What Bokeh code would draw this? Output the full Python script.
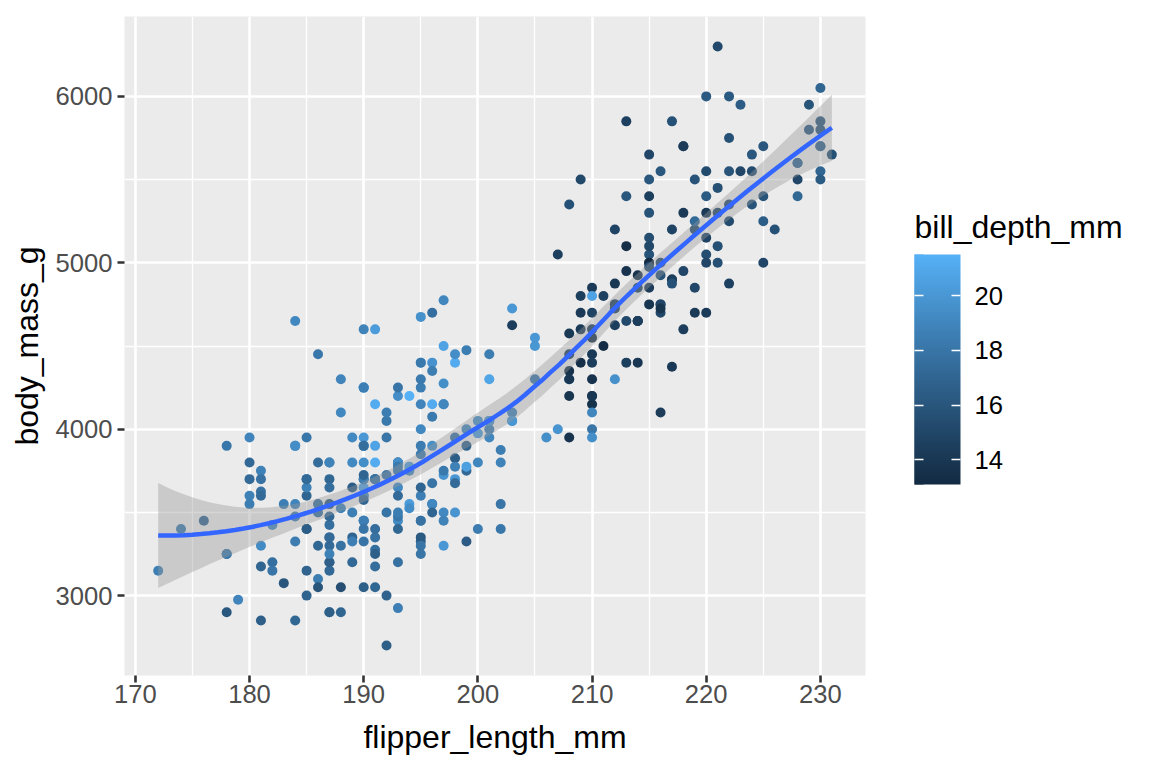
import numpy as np
from bokeh.plotting import figure
from bokeh.models import (Range1d, FixedTicker, LinearColorMapper, ColorBar, ColumnDataSource)
from bokeh.embed import file_html
from bokeh.resources import INLINE

# ---------------- data (palmer penguins, rows with complete values, in data order) ----------------
adelie_flipper = [181,186,195,193,190,181,195,193,190,186,180,182,191,198,185,195,197,184,194,174,
    180,189,185,180,187,183,187,172,180,178,178,188,184,195,196,190,180,181,184,182,195,186,196,185,
    190,182,179,190,191,186,188,190,200,187,191,186,193,181,194,185,195,185,192,184,192,195,188,190,
    198,190,190,196,197,190,195,191,184,187,195,189,196,187,193,191,194,190,189,189,190,202,205,185,
    186,187,208,190,196,178,192,192,203,183,190,193,184,199,190,181,197,198,191,193,197,191,196,188,
    199,189,189,187,198,176,202,186,199,191,195,191,210,190,197,193,199,187,190,191,200,185,193,193,
    187,188,190,192,185,190,184,195,193,187,201]
adelie_mass = [3750,3800,3250,3450,3650,3625,4675,3475,4250,3300,3700,3200,3800,4400,3700,3450,4500,
    3325,4200,3400,3600,3800,3950,3800,3800,3550,3200,3150,3950,3250,3900,3300,3900,3325,4150,3950,
    3550,3300,4650,3150,3900,3100,4400,3000,4600,3425,2975,3450,4150,3500,4300,3450,4050,2900,3700,
    3550,3800,2850,3750,3150,4400,3600,4050,2850,3950,3350,4100,3050,4450,3600,3900,3550,4150,3700,
    4250,3700,3900,3550,4000,3200,4700,3800,4200,3350,3550,3800,3500,3950,3600,3550,4300,3400,4450,
    3300,4300,3700,4350,2900,4100,3725,4725,3075,4250,2925,3550,3750,3900,3175,4775,3825,4600,3200,
    4275,3900,4075,2900,3775,3350,3325,3150,3500,3450,3875,3050,4000,3275,4300,3050,4000,3325,3500,
    3500,4475,3425,3900,3175,3975,3400,4250,3400,3475,3050,3725,3000,3650,4250,3475,3450,3750,3700,
    4000]
adelie_depth = [18.7,17.4,18.0,19.3,20.6,17.8,19.6,18.1,20.2,17.1,17.3,17.6,21.2,21.1,17.8,19.0,20.7,
    18.4,21.5,18.3,18.7,19.2,18.1,17.2,18.9,18.6,17.9,18.6,18.9,16.7,18.1,17.8,18.9,17.0,21.1,20.0,
    18.5,19.3,19.1,18.0,18.4,18.5,19.7,16.9,18.8,19.0,18.9,17.9,21.2,17.7,18.9,17.9,19.5,18.1,18.6,
    17.5,18.8,16.6,19.1,16.9,21.1,17.0,18.2,17.1,18.0,16.2,19.1,16.6,19.4,19.0,18.4,17.2,18.9,17.5,
    18.5,16.8,19.4,16.1,19.1,17.2,17.6,18.8,19.4,17.8,20.3,19.5,18.6,19.2,18.8,18.0,18.1,17.1,18.1,
    17.3,18.9,18.6,18.5,16.1,18.5,17.9,20.0,16.0,20.0,18.6,18.9,17.2,20.0,17.0,19.0,16.5,20.3,17.7,
    19.5,20.7,18.3,17.0,20.5,17.0,18.6,17.2,19.8,17.0,18.5,15.9,19.0,17.6,18.3,17.1,18.0,17.9,19.2,
    18.5,18.5,17.6,17.5,17.5,20.1,16.5,17.9,17.1,17.2,15.5,17.0,16.8,18.7,18.6,18.4,17.8,18.1,17.1,
    18.5]

gentoo_flipper = [211,230,210,218,215,210,211,219,209,215,214,216,214,213,210,217,210,221,209,222,
    218,215,213,215,215,215,216,215,210,220,222,209,207,230,220,220,213,219,208,208,208,225,210,216,
    222,217,210,225,213,215,210,220,210,225,217,220,208,220,208,224,208,221,214,231,219,230,214,229,
    220,223,216,221,221,217,216,230,209,220,215,223,212,221,212,224,212,228,218,218,212,230,218,228,
    212,224,214,226,216,222,203,225,219,228,215,228,216,215,210,219,208,209,216,229,213,230,217,230,
    217,222,214,215,222,212,213]
gentoo_mass = [4500,5700,4450,5700,5400,4550,4800,5200,4400,5150,4650,5550,4650,5850,4200,5850,4150,
    6300,4800,5350,5700,5000,4400,5050,5000,5100,4100,5650,4600,5550,5250,4700,5050,6050,5150,5400,
    4950,5250,4350,5350,3950,5700,4300,4750,5550,4900,4200,5400,5100,5300,4850,5300,4400,5000,4900,
    5050,4300,5000,4450,5550,4200,5300,4400,5650,4700,5700,4650,5800,4700,5550,4750,5000,5100,5200,
    4700,5800,4600,6000,4750,5950,4625,5450,4725,5350,4750,5600,4600,5300,4875,5550,4950,5400,4750,
    5650,4850,5200,4925,4875,4625,5250,4850,5600,4975,5500,4725,5500,4700,5500,4575,5500,5000,5950,
    4650,5500,4375,5850,4875,6000,4925,4850,5750,5200,5400]
gentoo_depth = [13.2,16.3,14.1,15.2,14.5,13.5,14.6,15.3,13.4,15.4,13.7,16.1,13.7,14.6,14.6,15.7,13.5,
    15.2,14.5,15.1,14.3,14.5,14.5,15.8,13.1,15.1,14.3,15.0,14.3,15.3,15.3,14.2,14.5,17.0,14.8,16.3,
    13.7,17.3,13.6,15.7,13.7,16.0,13.7,15.0,15.9,13.9,13.9,15.9,13.3,15.8,14.2,14.1,14.4,15.0,14.4,
    15.4,13.9,15.0,14.5,15.3,13.8,14.9,13.9,15.7,14.2,16.8,14.4,16.2,14.2,15.0,15.0,15.6,15.6,14.8,
    15.0,16.0,14.2,16.3,13.8,16.4,14.5,15.6,14.6,15.9,13.8,17.3,14.4,14.2,14.0,17.0,15.0,17.1,14.5,
    16.1,14.7,15.7,15.8,14.6,14.4,16.5,15.0,17.0,15.5,15.0,13.8,16.1,14.7,15.8,14.0,15.1,15.2,15.9,
    15.2,16.3,14.1,16.0,15.7,16.2,13.7,14.3,15.7,14.8,16.1]

chinstrap_flipper = [192,196,193,188,197,198,178,197,195,198,193,194,185,201,190,201,197,181,190,195,
    181,191,187,193,195,197,200,200,191,205,187,201,187,203,195,199,195,210,192,205,210,187,196,196,
    196,201,190,212,187,198,199,201,193,203,187,197,191,203,202,194,206,189,195,207,202,193,210,198]
chinstrap_mass = [3500,3900,3650,3525,3725,3950,3250,3750,4150,3700,3800,3775,3700,4050,3575,4050,
    3300,3700,3450,4400,3600,3400,2900,3800,3300,4150,3400,3800,3700,4550,3200,4300,3350,4100,3600,
    3900,3850,4800,2700,4500,3950,3650,3550,3500,3675,4450,3400,4300,3250,3675,3325,3950,3600,4050,
    3350,3450,3250,4050,3800,3525,3950,3650,3650,4000,3400,3775,4100,3775]
chinstrap_depth = [17.9,19.5,19.2,18.7,19.8,17.8,18.2,18.2,18.9,19.9,17.8,20.3,17.3,18.1,17.1,19.6,
    20.0,17.8,18.6,18.2,17.3,17.5,16.6,19.4,17.9,19.0,18.4,19.0,17.8,20.0,16.6,20.8,16.7,18.8,18.6,
    16.8,18.3,20.7,16.6,19.9,19.5,17.5,19.1,17.0,17.9,18.5,17.9,19.6,18.7,17.3,16.4,19.0,17.3,19.7,
    17.3,18.8,16.6,19.9,18.8,19.4,19.5,16.5,17.0,19.8,18.1,18.2,19.0,18.7]

x_ticks = [170, 180, 190, 200, 210, 220, 230]
y_ticks = [3000, 4000, 5000, 6000]
legend_ticks = [14, 16, 18, 20]
legend_title = "bill_depth_mm"

flipper_length_mm = np.array(adelie_flipper + gentoo_flipper + chinstrap_flipper, dtype=float)
body_mass_g = np.array(adelie_mass + gentoo_mass + chinstrap_mass, dtype=float)
bill_depth_mm = np.array(adelie_depth + gentoo_depth + chinstrap_depth, dtype=float)

# ---------------- colour scale: ggplot default gradient in CIELAB ----------------
def _hex_to_lab(h):
    rgb = np.array([int(h[i:i + 2], 16) for i in (1, 3, 5)]) / 255.0
    lin = np.where(rgb <= 0.04045, rgb / 12.92, ((rgb + 0.055) / 1.055) ** 2.4)
    M = np.array([[0.4124564, 0.3575761, 0.1804375],
                  [0.2126729, 0.7151522, 0.0721750],
                  [0.0193339, 0.1191920, 0.9503041]])
    xyz = M @ lin / np.array([0.95047, 1.0, 1.08883])
    d = 6 / 29
    f = np.where(xyz > d ** 3, np.cbrt(xyz), xyz / (3 * d * d) + 4 / 29)
    return np.array([116 * f[1] - 16, 500 * (f[0] - f[1]), 200 * (f[1] - f[2])])

def _lab_to_hex(lab):
    L, a, b = lab
    fy = (L + 16) / 116
    fx = fy + a / 500
    fz = fy - b / 200
    d = 6 / 29
    f = np.array([fx, fy, fz])
    xyz = np.where(f > d, f ** 3, 3 * d * d * (f - 4 / 29)) * np.array([0.95047, 1.0, 1.08883])
    Minv = np.array([[3.2404542, -1.5371385, -0.4985314],
                     [-0.9692660, 1.8760108, 0.0415560],
                     [0.0556434, -0.2040259, 1.0572252]])
    lin = np.clip(Minv @ xyz, 0, 1)
    rgb = np.where(lin <= 0.0031308, 12.92 * lin, 1.055 * lin ** (1 / 2.4) - 0.055)
    rgb = np.clip(np.round(rgb * 255), 0, 255).astype(int)
    return "#%02x%02x%02x" % tuple(rgb)

lab_lo, lab_hi = _hex_to_lab("#132B43"), _hex_to_lab("#56B1F7")
palette = [_lab_to_hex(lab_lo + (lab_hi - lab_lo) * t) for t in np.linspace(0, 1, 256)]
mapper = LinearColorMapper(palette=palette, low=bill_depth_mm.min(), high=bill_depth_mm.max())

# ---------------- loess smooth (span 0.75, degree 2) with 95% band ----------------
def loess_operator(x, x_eval, span=0.75):
    n = len(x)
    q = int(np.floor(n * span))
    rows = []
    for x0 in x_eval:
        d = np.abs(x - x0)
        h = np.sort(d)[q - 1]
        u = d / h
        w = np.where(u < 1, (1 - u ** 3) ** 3, 0.0)
        X = np.column_stack([np.ones(n), x - x0, (x - x0) ** 2])
        XtW = X.T * w
        rows.append(np.linalg.solve(XtW @ X, XtW)[0])
    return np.array(rows)

xv, yv = flipper_length_mm, body_mass_g
L_full = loess_operator(xv, xv)
IL = np.eye(len(xv)) - L_full
MM = IL.T @ IL
delta1 = np.trace(MM)
delta2 = np.sum(MM * MM)
resid = yv - L_full @ yv
s_hat = np.sqrt(np.sum(resid ** 2) / delta1)
df_t = delta1 ** 2 / delta2
z = 1.959963984540054
t_q = z + (z ** 3 + z) / (4 * df_t) + (5 * z ** 5 + 16 * z ** 3 + 3 * z) / (96 * df_t ** 2)
xs = np.linspace(xv.min(), xv.max(), 80)
L_eval = loess_operator(xv, xs)
fit = L_eval @ yv
se = s_hat * np.sqrt(np.sum(L_eval ** 2, axis=1))
lo, hi = fit - t_q * se, fit + t_q * se

# ---------------- figure ----------------
FONT = "Liberation Sans"
xpad = (xv.max() - xv.min()) * 0.05
ypad = (yv.max() - yv.min()) * 0.05

p = figure(frame_width=741, frame_height=659,
           min_border_left=124, min_border_right=287, min_border_top=16, min_border_bottom=93,
           x_range=Range1d(xv.min() - xpad, xv.max() + xpad),
           y_range=Range1d(yv.min() - ypad, yv.max() + ypad),
           output_backend="svg", toolbar_location=None)
p.background_fill_color = "#EBEBEB"
p.border_fill_color = "white"
p.outline_line_color = None

p.xaxis.ticker = FixedTicker(ticks=x_ticks, minor_ticks=[t + 5 for t in x_ticks[:-1]])
p.yaxis.ticker = FixedTicker(ticks=y_ticks, minor_ticks=[t + 500 for t in y_ticks])
for g in (p.xgrid, p.ygrid):
    g.grid_line_color = "white"
    g.grid_line_width = 2.6
    g.minor_grid_line_color = "white"
    g.minor_grid_line_width = 1.3

for ax in (p.xaxis, p.yaxis):
    ax.axis_line_color = None
    ax.major_tick_line_color = "#333333"
    ax.major_tick_line_width = 2.6
    ax.major_tick_in = 0
    ax.major_tick_out = 7
    ax.minor_tick_line_color = None
    ax.major_label_text_font = FONT
    ax.major_label_text_font_size = "25.6px"
    ax.major_label_text_color = "#4D4D4D"
    ax.axis_label_text_font = FONT
    ax.axis_label_text_font_size = "32px"
    ax.axis_label_text_font_style = "normal"
    ax.axis_label_text_color = "black"
p.xaxis.axis_label = "flipper_length_mm"
p.yaxis.axis_label = "body_mass_g"
p.xaxis.major_label_standoff = 2
p.xaxis.axis_label_standoff = 13
p.yaxis.major_label_standoff = 5
p.yaxis.axis_label_standoff = 8

src = ColumnDataSource(dict(x=xv, y=yv, d=bill_depth_mm))
p.scatter("x", "y", source=src, size=10, line_color=None,
          fill_color={"field": "d", "transform": mapper})

p.varea(x=xs, y1=lo, y2=hi, fill_color="#999999", fill_alpha=0.4)
p.line(xs, fit, line_color="#3366FF", line_width=4.5)

cb = ColorBar(color_mapper=mapper, ticker=FixedTicker(ticks=legend_ticks),
              width=46, height=230, padding=0, margin=0,
              location=(790, 191),
              major_label_text_font=FONT, major_label_text_font_size="25.6px",
              major_label_text_color="black", label_standoff=14,
              major_tick_line_color="white", major_tick_line_width=1.5,
              major_tick_in=9, major_tick_out=0, minor_tick_line_color=None,
              bar_line_color=None, border_line_color=None, background_fill_alpha=0)
p.add_layout(cb, "center")

# narrow strip over the left edge of the bar, carrying the left-hand white ticks
cb_left = ColorBar(color_mapper=mapper, ticker=FixedTicker(ticks=legend_ticks),
                   width=9, height=230, padding=0, margin=0,
                   location=(790, 191),
                   major_label_text_font_size="25.6px", major_label_text_alpha=0,
                   major_tick_line_color="white", major_tick_line_width=1.5,
                   major_tick_in=9, major_tick_out=0, minor_tick_line_color=None,
                   bar_line_color=None, border_line_color=None, background_fill_alpha=0)
p.add_layout(cb_left, "center")

# legend title: a horizontal colour bar whose scale is invisible, used only for its title text
cb_title = ColorBar(color_mapper=mapper, orientation="horizontal", ticker=FixedTicker(ticks=[]),
                    width=203, height=1, padding=0, margin=0, scale_alpha=0,
                    location=(790, 430),
                    title=legend_title, title_text_font=FONT, title_text_font_size="32px",
                    title_text_font_style="normal", title_text_color="black", title_standoff=0,
                    major_label_text_font_size="1px", major_label_text_alpha=0,
                    major_tick_line_color=None, minor_tick_line_color=None,
                    bar_line_color=None, border_line_color=None, background_fill_alpha=0)
p.add_layout(cb_title, "center")

open("out.html", "w").write(file_html(p, INLINE))
